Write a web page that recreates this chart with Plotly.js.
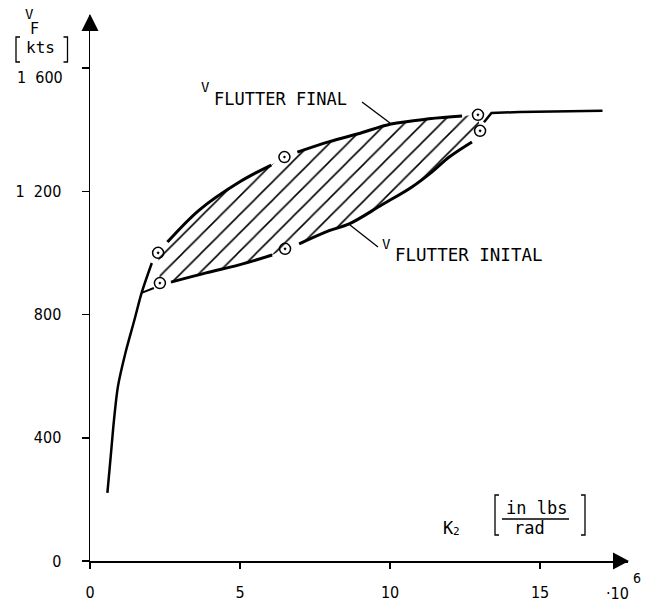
<!DOCTYPE html>
<html><head><meta charset="utf-8">
<script src="https://cdn.plot.ly/plotly-3.0.1.min.js"></script>
<style>html,body{margin:0;padding:0;background:#fff}#chart{width:648px;height:603px}</style>
</head><body><div id="chart"></div>
<script>
// stiffness K2 [10^6 in lbs/rad] vs flutter speed VF [kts]
const mainK = [0.58, 0.70, 0.80, 0.93, 1.18, 1.48, 1.72, 2.06];
const mainV = [221, 350, 458, 566, 675, 782, 870, 967];
const branchK = [1.72, 2.13];
const branchV = [870, 886];
const finalK = [2.27, 2.58, 3.64, 4.98, 6.04, 6.48, 6.91, 7.98, 9.03, 10.03, 11.3, 12.4, 12.93];
const finalV = [1000, 1035, 1139, 1230, 1285, 1311, 1327, 1361, 1389, 1418, 1435, 1444, 1448];
const finalCircleIdx = [0, 5, 12];
const initialK = [2.33, 2.7, 3.87, 4.97, 6.07, 6.5, 6.97, 7.97, 8.64, 9.73, 10.73, 11.4, 11.97, 12.73, 13.0];
const initialV = [902, 905, 935, 961, 993, 1013, 1029, 1072, 1094, 1156, 1214, 1263, 1311, 1360, 1396];
const initialCircleIdx = [0, 5, 14];
const rightK = [13.13, 13.38, 14.31, 17.08];
const rightV = [1424, 1454, 1457, 1461];
const xTickVals = [0, 5, 10, 15];
const xTickText = ['0', '5', '10', '15'];
const yTickVals = [0, 400, 800, 1200, 1600];
const yTickText = ['0', '400', '800', '1\u00a0\u00a0200', ''];

function withGaps(xs, ys, skip) {
  const X = [], Y = [];
  xs.forEach((x, i) => {
    if (skip.includes(i)) {
      if (X.length && X[X.length - 1] !== null) { X.push(null); Y.push(null); }
    } else { X.push(x); Y.push(ys[i]); }
  });
  return [X, Y];
}
const [fLx, fLy] = withGaps(finalK, finalV, finalCircleIdx);
const [iLx, iLy] = withGaps(initialK, initialV, initialCircleIdx);
const circK = finalCircleIdx.map(i => finalK[i]).concat(initialCircleIdx.map(i => initialK[i]));
const circV = finalCircleIdx.map(i => finalV[i]).concat(initialCircleIdx.map(i => initialV[i]));

const black = '#000';
const traces = [
  {x: finalK.concat(initialK.slice().reverse()), y: finalV.concat(initialV.slice().reverse()),
   mode: 'lines', fill: 'toself', line: {width: 0, color: 'rgba(0,0,0,0)'},
   fillcolor: 'rgba(255,255,255,0)',
   fillpattern: {shape: '/', size: 13, solidity: 0.12, fgcolor: black, bgcolor: 'rgba(255,255,255,0)', fgopacity: 1},
   hoverinfo: 'skip'},
  {x: mainK, y: mainV, mode: 'lines', line: {color: black, width: 2.5, shape: 'spline', smoothing: 0.8}},
  {x: branchK, y: branchV, mode: 'lines', line: {color: black, width: 2}},
  {x: fLx, y: fLy, mode: 'lines', connectgaps: false, line: {color: black, width: 3, shape: 'spline'}},
  {x: iLx, y: iLy, mode: 'lines', connectgaps: false, line: {color: black, width: 3, shape: 'spline'}},
  {x: rightK, y: rightV, mode: 'lines', line: {color: black, width: 2.5}},
  {x: circK, y: circV, mode: 'markers', marker: {symbol: 'circle-open-dot', size: 11, color: black, line: {width: 1.5, color: black}}}
];

const mono = 'DejaVu Sans Mono, Liberation Mono, monospace';
const cond = 'DejaVu Sans Condensed, DejaVu Sans, sans-serif';
function px(X) { return (X - 90) / 538; }
function py(Y) { return (561 - Y) / 546; }
// label placed at picture position (X, Y) through paper coordinates
function ann(text, X, Y, size, opts) {
  return Object.assign({text: text, x: px(X), y: py(Y), xref: 'paper', yref: 'paper', showarrow: false,
    font: {family: mono, size: size, color: black}, xanchor: 'center', yanchor: 'middle'}, opts || {});
}
const annotations = [
  ann('V', 29, 23, 14, {yanchor: 'bottom', borderpad: 0}),
  ann('F', 34.5, 19, 15, {yanchor: 'top', borderpad: 0}),
  ann('kts', 40, 47, 16),
  ann('1\u00a0\u00a0600', 64.5, 77, 16, {xanchor: 'right', font: {family: cond, size: 16, color: black}}),
  ann('V', 205.5, 87, 14),
  ann('FLUTTER FINAL', 212, 98.5, 17, {xanchor: 'left'}),
  ann('V', 386, 244, 14),
  ann('FLUTTER INITAL', 393, 255, 17.5, {xanchor: 'left'}),
  ann('K', 448, 528, 17),
  ann('2', 456, 531.5, 11),
  ann('in lbs', 536, 508, 17),
  ann('rad', 529, 528, 17),
  ann('\u00b710', 617, 593, 16, {font: {family: cond, size: 16, color: black}}),
  ann('6', 637, 578, 14, {font: {family: cond, size: 14, color: black}})
];

const shapes = [
  // axis arrowheads
  {type: 'path', xref: 'paper', yref: 'paper', fillcolor: black, line: {width: 0},
   path: `M${px(90)},${py(14)} L${px(81.5)},${py(31)} L${px(98.5)},${py(31)} Z`},
  {type: 'path', xref: 'paper', yref: 'paper', fillcolor: black, line: {width: 0},
   path: `M${px(629)},${py(561)} L${px(613)},${py(552.5)} L${px(613)},${py(569.5)} Z`},
  // [kts] brackets
  {type: 'path', xref: 'paper', yref: 'paper', line: {color: black, width: 1.3},
   path: `M${px(20)},${py(37)} L${px(16)},${py(37)} L${px(16)},${py(62)} L${px(20)},${py(62)}`},
  {type: 'path', xref: 'paper', yref: 'paper', line: {color: black, width: 1.3},
   path: `M${px(63.5)},${py(37)} L${px(67.5)},${py(37)} L${px(67.5)},${py(62)} L${px(63.5)},${py(62)}`},
  // unit brackets and fraction line
  {type: 'path', xref: 'paper', yref: 'paper', line: {color: black, width: 1.3},
   path: `M${px(499)},${py(495)} L${px(495)},${py(495)} L${px(495)},${py(535)} L${px(499)},${py(535)}`},
  {type: 'path', xref: 'paper', yref: 'paper', line: {color: black, width: 1.3},
   path: `M${px(581)},${py(495)} L${px(585)},${py(495)} L${px(585)},${py(535)} L${px(581)},${py(535)}`},
  {type: 'line', xref: 'paper', yref: 'paper', x0: px(502), x1: px(569), y0: py(519), y1: py(519), line: {color: black, width: 1.3}},
  // label leader lines
  {type: 'line', xref: 'paper', yref: 'paper', x0: px(362), y0: py(102), x1: px(390), y1: py(123), line: {color: black, width: 1.3}},
  {type: 'line', xref: 'paper', yref: 'paper', x0: px(350), y0: py(225), x1: px(378), y1: py(247), line: {color: black, width: 1.3}}
];

const layout = {
  width: 648, height: 603, showlegend: false,
  margin: {l: 90, r: 20, t: 15, b: 42},
  paper_bgcolor: '#fff', plot_bgcolor: '#fff',
  xaxis: {range: [0, 17.93], showgrid: false, zeroline: false, showline: true, linecolor: black, linewidth: 1.5,
    ticks: 'outside', ticklen: 6, tickwidth: 1.5, tickcolor: black, tickvals: xTickVals, ticktext: xTickText,
    tickfont: {family: cond, size: 16, color: black}, ticklabelstandoff: 10, fixedrange: true},
  yaxis: {range: [0, 1772], showgrid: false, zeroline: false, showline: true, linecolor: black, linewidth: 1.5,
    ticks: 'outside', ticklen: 7, tickwidth: 1.5, tickcolor: black, tickvals: yTickVals, ticktext: yTickText,
    tickfont: {family: cond, size: 16, color: black}, ticklabelstandoff: 17, fixedrange: true},
  annotations: annotations, shapes: shapes
};
Plotly.newPlot('chart', traces, layout, {displayModeBar: false, staticPlot: true});
</script></body></html>
